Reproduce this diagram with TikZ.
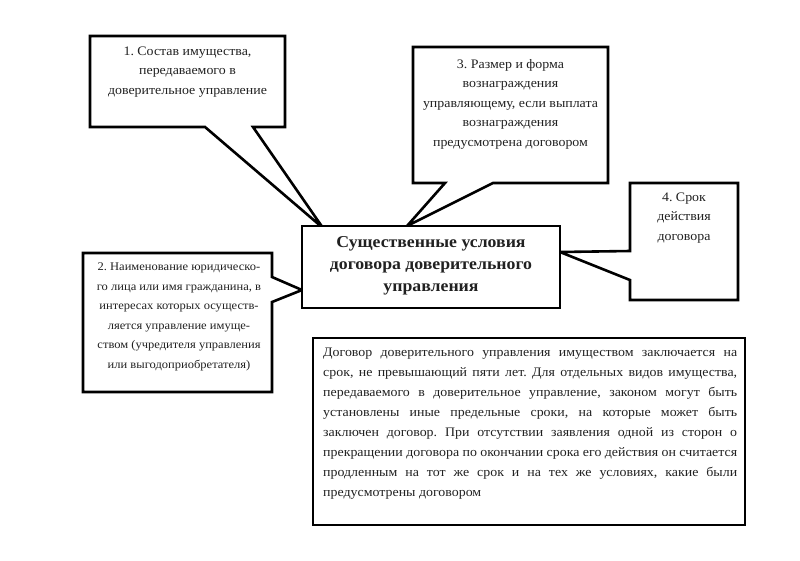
\documentclass[tikz,border=0pt]{standalone}
\usepackage{fontspec}
\setmainfont[FakeStretch=1.07]{Liberation Serif}
\definecolor{txt}{rgb}{0.13,0.13,0.13}
\tikzset{
  callout/.style={draw=black, fill=white, line width=2.6pt, line join=miter},
  ctext/.style={align=center, text=txt, inner sep=0pt, font=\fontsize{13}{19.5}\selectfont},
  stext/.style={align=center, text=txt, inner sep=0pt, font=\fontsize{11.7}{19.5}\selectfont},
  mainbox/.style={draw=black, fill=white, line width=1.8pt},
  mtext/.style={align=center, text=txt, inner sep=0pt, font=\bfseries\fontsize{16.6}{22}\selectfont},
  notebox/.style={draw=black, fill=white, line width=2.6pt},
  ntext/.style={align=left, text=txt, inner sep=0pt, font=\fontsize{13}{20}\selectfont}
}
\newcommand{\jl}[1]{\makebox[414pt][s]{#1}}
\frenchspacing
\begin{document}
\begin{tikzpicture}[x=1pt,y=-1pt]
\useasboundingbox[fill=white] (0,0) rectangle (800,560);
% callout 1
\draw[callout] (90,36) -- (285,36) -- (285,127) -- (253,127) -- (323,228) -- (205,127) -- (90,127) -- cycle;
\node[ctext] (t1) at (187.5,72) {1. Состав имущества,\\передаваемого в\\доверительное управление};
% callout 3
\draw[callout] (413,47) -- (608,47) -- (608,183) -- (493,183) -- (407,226) -- (445,183) -- (413,183) -- cycle;
\node[ctext] (t3) at (510.5,104) {3. Размер и форма\\вознаграждения\\управляющему, если выплата\\вознаграждения\\предусмотрена договором};
% callout 4
\draw[callout] (630,183) -- (738,183) -- (738,300) -- (630,300) -- (630,280) -- (560,252) -- (630,251) -- cycle;
\node[ctext] (t4) at (684,218) {4. Срок\\действия\\договора};
% callout 2
\draw[callout] (83,253) -- (272,253) -- (272,277) -- (302,290) -- (272,302) -- (272,392) -- (83,392) -- cycle;
\node[stext] (t2) at (179,317) {2. Наименование юридическо-\\го лица или имя гражданина, в\\интересах которых осуществ-\\ляется управление имуще-\\ством (учредителя управления\\или выгодоприобретателя)};
% central box
\draw[mainbox] (302,226) rectangle (560,308);
\node[mtext] (m) at (431,266) {Существенные условия\\договора доверительного\\управления};
% note box
\draw[notebox] (313,338) rectangle (745,525);
\node[ntext, anchor=north west] (n) at (323,348) {\jl{Договор доверительного управления имуществом заключается на}\\
\jl{срок, не превышающий пяти лет. Для отдельных видов имущества,}\\
\jl{передаваемого в доверительное управление, законом могут быть}\\
\jl{установлены иные предельные сроки, на которые может быть}\\
\jl{заключен договор. При отсутствии заявления одной из сторон о}\\
\jl{прекращении договора по окончании срока его действия он считается}\\
\jl{продленным на тот же срок и на тех же условиях, какие были}\\
предусмотрены договором};
\end{tikzpicture}
\end{document}
